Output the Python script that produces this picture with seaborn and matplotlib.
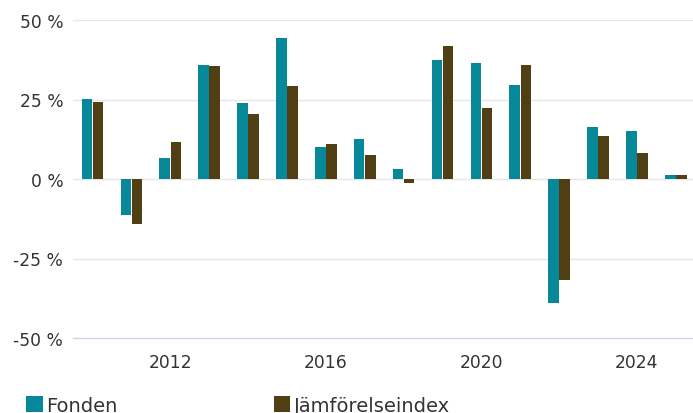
import pandas as pd
import matplotlib
matplotlib.use('Agg')
import matplotlib.pyplot as plt
import seaborn as sns

years = list(range(2010, 2026))
fonden = [25.2, -11.2, 6.6, 35.8, 23.9, 44.3, 10.1, 12.6, 3.1, 37.4, 36.5, 29.6, -38.9, 16.4, 15.1, 1.3]
index = [24.2, -14.0, 11.6, 35.5, 20.4, 29.2, 11.0, 7.5, -1.3, 41.8, 22.3, 35.8, -31.7, 13.5, 8.2, 1.3]
series_names = ['Fonden', 'Jämförelseindex']
colors = ['#078898', '#4f3f12']
y_ticks = [-50, -25, 0, 25, 50]
x_ticks = [2012, 2016, 2020, 2024]

df = pd.DataFrame({
    'year': years * 2,
    'value': fonden + index,
    'serie': [series_names[0]] * len(years) + [series_names[1]] * len(years),
})

sns.set_style('white')
plt.rcParams['font.family'] = ['DejaVu Sans']

W, H = 693, 414
fig = plt.figure(figsize=(W / 100, H / 100), dpi=100)
ax = fig.add_axes([73 / W, 1 - 339 / H, 620 / W, 318 / H])

sns.barplot(data=df, x='year', y='value', hue='serie', palette=colors,
            native_scale=True, width=0.57, gap=0.05, ax=ax, saturation=1,
            linewidth=0, legend=True)

ax.set_xlim(2009.5, 2025.44)
ax.set_ylim(-50, 50)
ax.set_yticks(y_ticks)
ax.set_yticklabels([f'{v} %' for v in y_ticks])
ax.set_xticks(x_ticks)
ax.set_xticklabels([str(v) for v in x_ticks])
ax.set_xlabel('')
ax.set_ylabel('')

for v in y_ticks[1:]:
    ax.axhline(v, color='#e6e6e6', lw=1, zorder=0)
for s in ['top', 'right', 'left']:
    ax.spines[s].set_visible(False)
ax.spines['bottom'].set_color('#ccd6eb')
ax.spines['bottom'].set_linewidth(1)
ax.spines['bottom'].set_position(('data', -50))

ax.tick_params(axis='y', length=0, labelsize=12.3, labelcolor='#333333', pad=7)
ax.tick_params(axis='x', length=7.5, width=1, color='#ccd6eb', direction='out',
               labelsize=12.3, labelcolor='#333333', pad=3)

# legend sits at the very bottom, partly cut like in the original
handles, labels = ax.get_legend_handles_labels()
ax.legend_.remove()
fig.legend(handles, labels, loc='upper left', bbox_to_anchor=(26 / W, 1 - 397 / H),
           ncol=2, frameon=False, fontsize=14, borderpad=0, borderaxespad=0,
           handlelength=0.86, handleheight=0.86, handletextpad=0.2,
           columnspacing=8.0, labelcolor='#333333')

fig.savefig('out.png', dpi=100)
